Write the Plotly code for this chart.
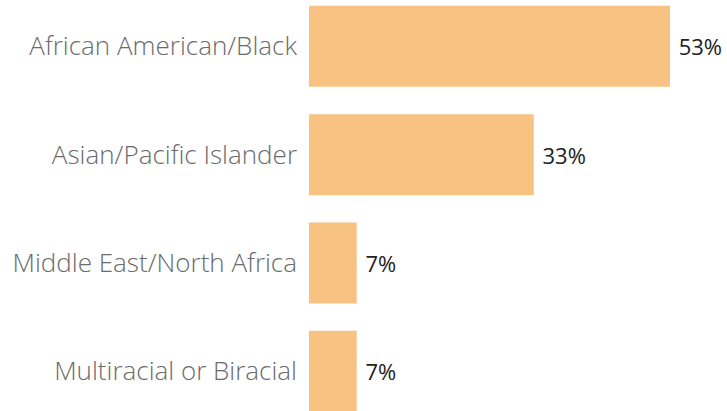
import plotly.graph_objects as go

categories = ["African American/Black", "Asian/Pacific Islander", "Middle East/North Africa", "Multiracial or Biracial"]
values = [53, 33, 7, 7]
value_labels = ["53%", "33%", "7%", "7%"]

fig = go.Figure(go.Bar(
    x=values,
    y=categories,
    orientation="h",
    marker=dict(color="#F8C282", line=dict(width=0)),
    text=value_labels,
    texttemplate=" %{text}",
    textposition="outside",
    textfont=dict(family="Open Sans", size=22, color="#222222", weight=400),
    cliponaxis=False,
    hoverinfo="skip",
))

fig.update_layout(
    width=727, height=411,
    margin=dict(l=309, r=0, t=0, b=0, autoexpand=False),
    paper_bgcolor="white", plot_bgcolor="white",
    bargap=0.252,
    showlegend=False,
    xaxis=dict(range=[0, 61.37], visible=False, fixedrange=True),
    yaxis=dict(
        categoryorder="array", categoryarray=categories,
        range=[3.367, -0.428], automargin=False,
        showgrid=False, zeroline=False, showline=False,
        ticks="", ticklabelstandoff=11,
        tickfont=dict(family="Open Sans", size=26, color="#6b6b6b", weight=300),
    ),
)

fig.write_html("out.html", config={"displayModeBar": False, "staticPlot": True},
               post_script="document.body.style.margin='0px';document.body.style.padding='0px';")
